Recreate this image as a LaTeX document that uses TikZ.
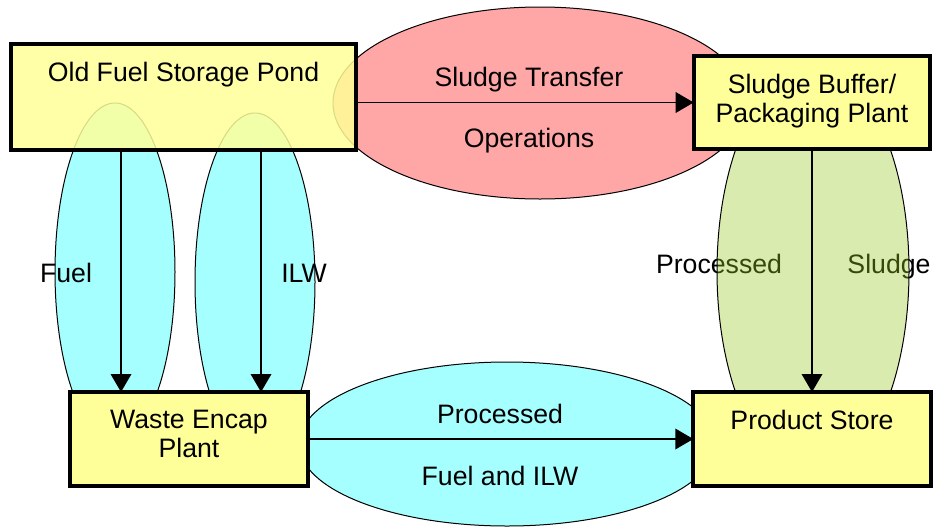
\documentclass[tikz,border=0pt]{standalone}
\usepackage{fontspec}
\setmainfont{Liberation Sans}
\usepackage{tikz}
\usetikzlibrary{positioning, shapes.geometric, arrows.meta}

\begin{document}
\begin{tikzpicture}[x=0.75pt, y=-0.75pt, font=\fontsize{20}{21.75}\selectfont, align=center,
        plant/.style={draw, rectangle, line width=3pt, fill=plantyellow, inner sep=0pt, outer sep=0pt},
        plantname/.style={inner sep=0pt, outer sep=0pt},
        flow/.style={draw, ellipse, line width=0.75pt, inner sep=0pt},
        flowname/.style={anchor=base, inner sep=0pt},
        route/.style={-{Triangle[length=13.5pt, width=15.5pt]}, line width=1pt}]
        % Define colors
        \definecolor{plantyellow}{RGB}{255,255,153}
        \definecolor{flowred}{RGB}{255,166,166}
        \definecolor{flowcyan}{RGB}{166,255,255}
        \definecolor{flowgreen}{RGB}{150,200,30}

        \useasboundingbox (0,0) rectangle (934,529);

        % Flows
        \node[flow, fill=flowred, minimum width=310.5pt, minimum height=144pt] (transfer) at (540,103) {};
        \node[flow, fill=flowcyan, minimum width=90pt, minimum height=253.5pt] (fuelflow) at (115,272) {};
        \node[flow, fill=flowcyan, minimum width=90pt, minimum height=253.5pt] (ilwflow) at (255,282) {};
        \node[flow, fill=flowcyan, minimum width=312pt, minimum height=123pt] (processflow) at (507,444) {};

        % Flow labels
        \node[flowname] (transfertop) at (529,86) {Sludge Transfer};
        \node[flowname] (transferbot) at (529,147) {Operations};
        \node[flowname] (fuellabel) at (66,282) {Fuel};
        \node[flowname] (ilwlabel) at (304,282) {ILW};
        \node[flowname] (processtop) at (500,423) {Processed};
        \node[flowname] (processbot) at (500,485) {Fuel and ILW};
        \node[flowname] (sludgeleft) at (719,273) {Processed};
        \node[flowname] (sludgeright) at (889,273) {Sludge};

        % green flow lies over its labels
        \node[flow, fill=flowgreen, fill opacity=0.36, minimum width=144pt, minimum height=307.5pt] (sludgeflow) at (813,271) {};

        % Plants
        \node[plant, fill opacity=0.85, minimum width=258.75pt, minimum height=79.5pt] (pond) at (183.5,97) {};
        \node[plant, minimum width=177.5pt, minimum height=69.75pt] (buffer) at (812,102.5) {};
        \node[plant, minimum width=178.5pt, minimum height=70.5pt] (encap) at (189,439) {};
        \node[plant, minimum width=178pt, minimum height=70.5pt] (store) at (812,439) {};

        \node[plantname, below=13.5pt of pond.north] (pondlabel) {Old Fuel Storage Pond};
        \node[plantname, below=13.5pt of buffer.north] (bufferlabel) {Sludge Buffer/\\Packaging Plant};
        \node[plantname, below=13.5pt of encap.north] (encaplabel) {Waste Encap\\Plant};
        \node[plantname, below=13.5pt of store.north] (storelabel) {Product Store};

        % Edges
        \draw[route] (pond.east |- buffer.west) -- (buffer.west);
        \draw[route] ([xshift=4.5pt]fuelflow.center |- pond.south) -- ([xshift=4.5pt]fuelflow.center |- encap.north);
        \draw[route] ([xshift=4.5pt]ilwflow.center |- pond.south) -- ([xshift=4.5pt]ilwflow.center |- encap.north);
        \draw[route] (buffer.south) -- (store.north);
        \draw[route] (encap.east |- store.west) -- (store.west);
    \end{tikzpicture}
\end{document}
